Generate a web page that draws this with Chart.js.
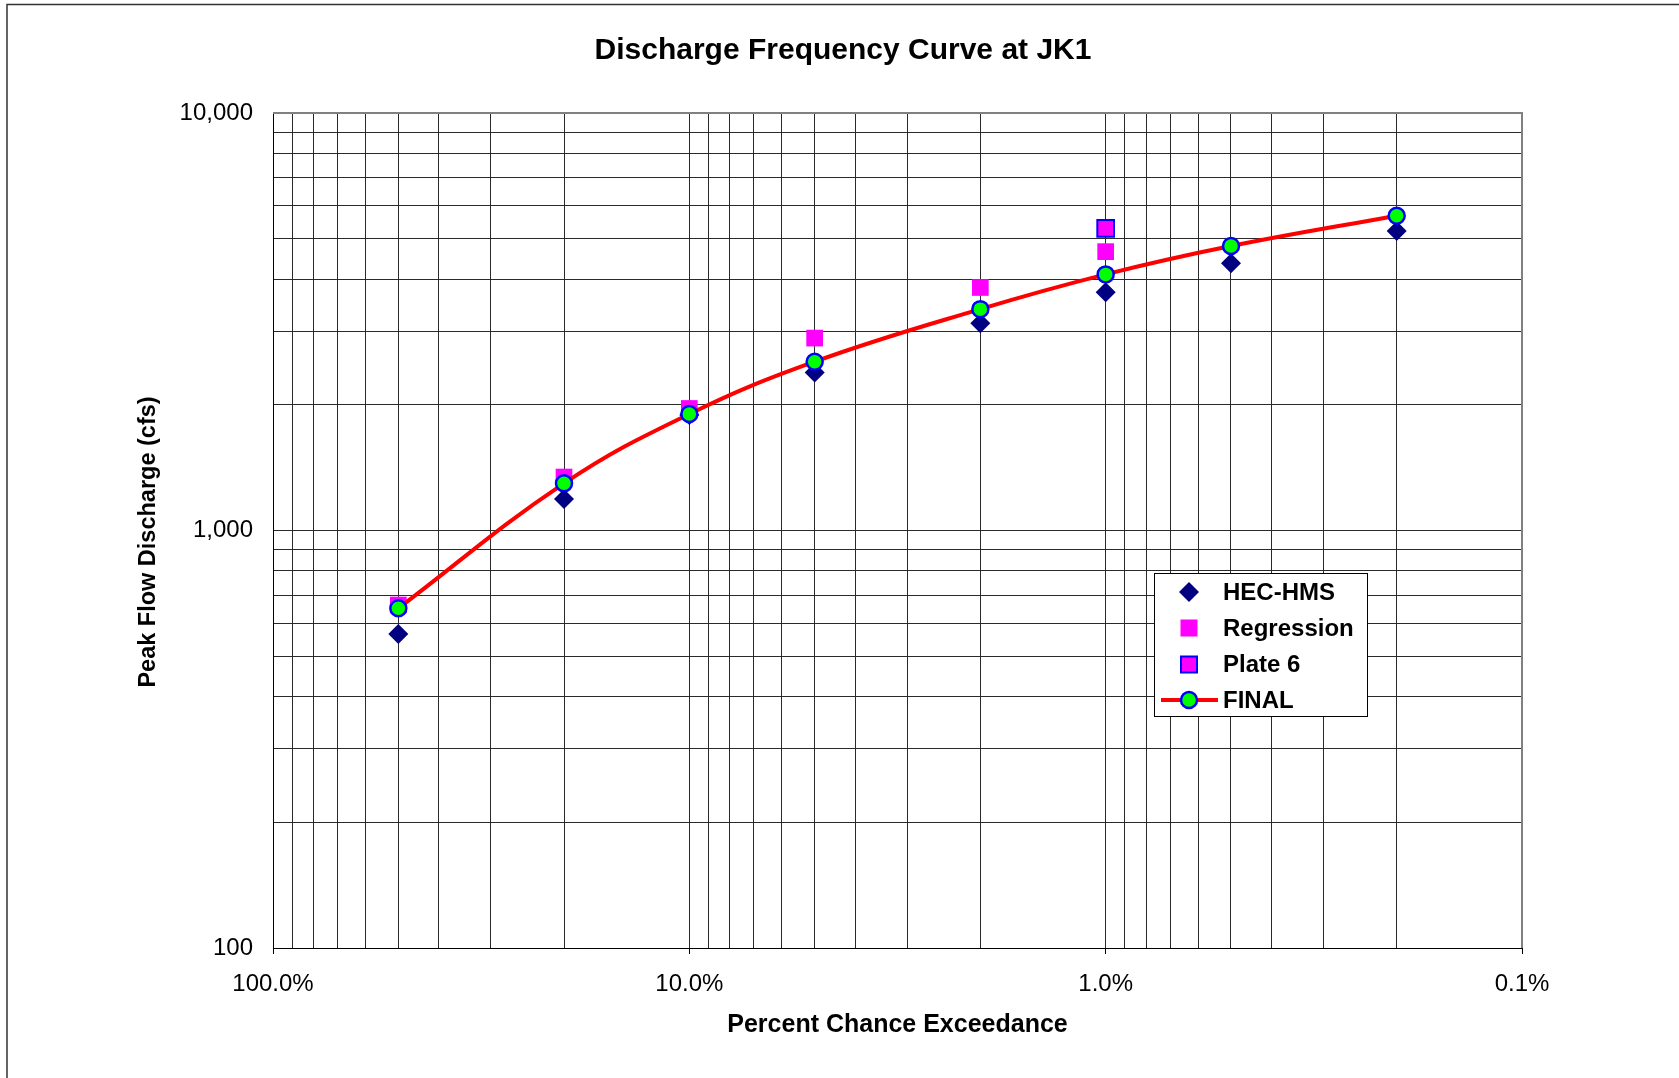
<!DOCTYPE html>
<html>
<head>
<meta charset="utf-8">
<script src="https://cdn.jsdelivr.net/npm/chart.js@4.4.1/dist/chart.umd.min.js"></script>
<style>
  html, body { margin: 0; padding: 0; background: #ffffff; }
  #wrap { width: 1679px; height: 1078px; position: relative; }
</style>
</head>
<body>
<div id="wrap"><canvas id="c" width="1679" height="1078"></canvas></div>
<script>
// ---- data ----
const exceedance = [50, 20, 10, 5, 2, 1, 0.5, 0.2];            // percent chance exceedance
const hecHms     = [565, 1190, 1890, 2390, 3135, 3720, 4365, 5215];
const regression = [663, 1343, 1960, 2890, 3820, 4655, null, null];
const plate6     = [null, null, null, null, null, 5295, null, null];
const finalFlow  = [651, 1297, 1901, 2537, 3390, 4106, 4800, 5676];

const xTickValues = [0.1, 0.2, 0.3, 0.4, 0.5, 0.6, 0.7, 0.8, 0.9,
                     1, 2, 3, 4, 5, 6, 7, 8, 9,
                     10, 20, 30, 40, 50, 60, 70, 80, 90, 100];
const xMajorTicks = [0.1, 1, 10, 100];
const yTickValues = [100, 200, 300, 400, 500, 600, 700, 800, 900,
                     1000, 2000, 3000, 4000, 5000, 6000, 7000, 8000, 9000, 10000];
const yMajorTicks = [100, 1000, 10000];

const titleText = 'Discharge Frequency Curve at JK1';
const xTitle = 'Percent Chance Exceedance';
const yTitle = 'Peak Flow Discharge (cfs)';
const seriesNames = ['HEC-HMS', 'Regression', 'Plate 6', 'FINAL'];

function pts(ys) {
  return exceedance.map((x, i) => ({ x: x, y: ys[i] })).filter(p => p.y !== null);
}

const FONT = "'Liberation Sans', Arial, sans-serif";

const framePlugin = {
  id: 'frame',
  beforeDraw(chart) {
    const ctx = chart.ctx;
    ctx.save();
    ctx.fillStyle = '#ffffff';
    ctx.fillRect(0, 0, chart.width, chart.height);
    ctx.strokeStyle = '#333333';
    ctx.lineWidth = 1.5;
    ctx.beginPath();
    ctx.moveTo(7, chart.height);
    ctx.lineTo(7, 4.5);
    ctx.lineTo(chart.width, 4.5);
    ctx.stroke();
    ctx.restore();
  },
  beforeDatasetsDraw(chart) {
    const a = chart.chartArea;
    const ctx = chart.ctx;
    ctx.save();
    ctx.strokeStyle = '#808080';
    ctx.lineWidth = 2;
    ctx.beginPath();
    ctx.moveTo(a.left, a.top);
    ctx.lineTo(a.right, a.top);
    ctx.lineTo(a.right, a.bottom);
    ctx.stroke();
    ctx.restore();
  },
  afterDraw(chart) {
    const ctx = chart.ctx;
    ctx.save();
    ctx.fillStyle = '#000000';
    ctx.textAlign = 'center';
    ctx.textBaseline = 'middle';
    ctx.font = 'bold 30px ' + FONT;
    ctx.fillText(titleText, 843, 51);
    ctx.translate(149, 542);
    ctx.rotate(-Math.PI / 2);
    ctx.font = 'bold 23.5px ' + FONT;
    ctx.fillText(yTitle, 0, 0);
    ctx.restore();
  }
};

const legendPlugin = {
  id: 'boxLegend',
  afterDraw(chart) {
    const ctx = chart.ctx;
    const bx = 1154, by = 573, bw = 213, bh = 143;
    ctx.save();
    ctx.fillStyle = '#ffffff';
    ctx.fillRect(bx, by, bw, bh);
    ctx.strokeStyle = '#000000';
    ctx.lineWidth = 1;
    ctx.strokeRect(bx + 0.5, by + 0.5, bw, bh);
    const rows = [592, 628, 664.5, 700];
    const mx = 1189;
    const ds = chart.data.datasets;
    ctx.fillStyle = ds[0].backgroundColor;
    ctx.beginPath();
    ctx.moveTo(mx, rows[0] - 10); ctx.lineTo(mx + 10, rows[0]);
    ctx.lineTo(mx, rows[0] + 10); ctx.lineTo(mx - 10, rows[0]); ctx.closePath();
    ctx.fill();
    ctx.fillStyle = ds[1].backgroundColor;
    ctx.fillRect(mx - 8.5, rows[1] - 8.5, 17, 17);
    ctx.fillStyle = ds[2].backgroundColor;
    ctx.fillRect(mx - 8, rows[2] - 8, 16, 16);
    ctx.strokeStyle = ds[2].borderColor;
    ctx.lineWidth = 2;
    ctx.strokeRect(mx - 8, rows[2] - 8, 16, 16);
    ctx.strokeStyle = ds[3].borderColor;
    ctx.lineWidth = 4;
    ctx.beginPath();
    ctx.moveTo(1161, rows[3]); ctx.lineTo(1218, rows[3]); ctx.stroke();
    ctx.fillStyle = ds[3].pointBackgroundColor;
    ctx.strokeStyle = ds[3].pointBorderColor;
    ctx.lineWidth = 2.5;
    ctx.beginPath(); ctx.arc(mx, rows[3], 8, 0, Math.PI * 2); ctx.fill(); ctx.stroke();
    ctx.fillStyle = '#000000';
    ctx.font = 'bold 24px ' + FONT;
    ctx.textAlign = 'left';
    ctx.textBaseline = 'middle';
    seriesNames.forEach((n, i) => ctx.fillText(n, 1223, rows[i] + 1));
    ctx.restore();
  }
};

new Chart(document.getElementById('c'), {
  type: 'line',
  data: {
    datasets: [
      {
        label: seriesNames[0], data: pts(hecHms), showLine: false, order: 4,
        pointStyle: 'rectRot', pointRadius: 10, pointHoverRadius: 10,
        backgroundColor: '#000080', borderColor: '#000080', pointBorderWidth: 0
      },
      {
        label: seriesNames[1], data: pts(regression), showLine: false, order: 3,
        pointStyle: 'rect', pointRadius: 11.8, pointHoverRadius: 11.8,
        backgroundColor: '#FF00FF', borderColor: '#FF00FF', pointBorderWidth: 0
      },
      {
        label: seriesNames[2], data: pts(plate6), showLine: false, order: 2,
        pointStyle: 'rect', pointRadius: 11.8, pointHoverRadius: 11.8,
        backgroundColor: '#FF00FF', borderColor: '#0000FF', pointBorderWidth: 2
      },
      {
        label: seriesNames[3], data: pts(finalFlow), showLine: true, order: 1,
        borderColor: '#FF0000', borderWidth: 4, tension: 0.4,
        pointStyle: 'circle', pointRadius: 8, pointHoverRadius: 8,
        pointBackgroundColor: '#00FF00', pointBorderColor: '#0000FF', pointBorderWidth: 2.5
      }
    ]
  },
  options: {
    responsive: false,
    animation: false,
    events: [],
    layout: { padding: { left: 0, right: 157, top: 113, bottom: 0 } },
    plugins: {
      legend: { display: false },
      tooltip: { enabled: false },
      title: { display: false }
    },
    scales: {
      x: {
        type: 'logarithmic', reverse: true, min: 0.1, max: 100,
        afterBuildTicks: (s) => { s.ticks = xTickValues.map(v => ({ value: v })); },
        afterFit: (s) => { s.height = 130; },
        ticks: {
          autoSkip: false, maxRotation: 0, minRotation: 0, padding: 16,
          color: '#000000', font: { family: FONT, size: 24 },
          callback: (v) => xMajorTicks.includes(v) ? v.toFixed(1) + '%' : ''
        },
        grid: {
          color: '#2a2a2a', lineWidth: 1, drawTicks: true, tickLength: 6,
          tickColor: (c) => (c.tick && xMajorTicks.includes(c.tick.value)) ? '#000000' : 'rgba(0,0,0,0)'
        },
        border: { color: '#000000', width: 1 },
        title: {
          display: true, text: xTitle, color: '#000000',
          font: { family: FONT, size: 25, weight: 'bold', lineHeight: 1.2 },
          padding: { top: 0, bottom: 38 }
        }
      },
      y: {
        type: 'logarithmic', min: 100, max: 10000,
        afterBuildTicks: (s) => { s.ticks = yTickValues.map(v => ({ value: v })); },
        afterFit: (s) => { s.width = 273; },
        ticks: {
          autoSkip: false, padding: 20,
          color: '#000000', font: { family: FONT, size: 24 },
          callback: (v) => yMajorTicks.includes(v) ? v.toLocaleString('en-US') : ''
        },
        grid: { color: '#2a2a2a', lineWidth: 1, drawTicks: false },
        border: { color: '#000000', width: 1 },
        title: { display: false }
      }
    }
  },
  plugins: [framePlugin, legendPlugin]
});
</script>
</body>
</html>
